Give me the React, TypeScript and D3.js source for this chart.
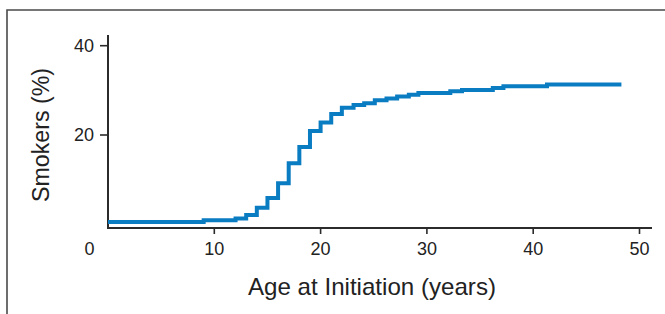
import React from "react";
import * as d3 from "d3";

const ages: number[] = [0, 9, 12, 13, 14, 15, 16, 17, 18, 19, 20, 21, 22, 23.1, 24.1, 25.1, 26.2, 27.2, 28.3, 29.2, 32.2, 33.3, 36.2, 37.2, 41.3, 48.3];
const smokers: number[] = [0.5, 0.9, 1.3, 2.1, 3.7, 5.9, 9.2, 13.7, 17.3, 20.9, 22.8, 24.7, 26.1, 26.7, 27.1, 27.8, 28.2, 28.6, 29.0, 29.4, 29.8, 30.1, 30.5, 30.9, 31.3, 31.3];
const xTicks: number[] = [10, 20, 30, 40, 50];
const yTicks: number[] = [20, 40];
const xTitle = "Age at Initiation (years)";
const yTitle = "Smokers (%)";

export default function App() {
  const W = 665, H = 314;
  const x = d3.scaleLinear().domain([0, 50]).range([108, 639.5]);
  const y = d3.scaleLinear().domain([0, 40]).range([224.3, 45.7]);
  const axisY = 228;
  const axisColor = "#2b2b2b";
  const font = "'Liberation Sans', Arial, Helvetica, sans-serif";
  const data = ages.map((a, i) => [a, smokers[i]] as [number, number]);
  const line = d3.line<[number, number]>().x(d => x(d[0])).y(d => y(d[1])).curve(d3.curveStepAfter);

  return (
    <svg width={W} height={H} style={{ position: "absolute", left: 0, top: 0, background: "#fff" }}>
      {/* frame */}
      <path d={`M7,${H} L7,10 L${W},10`} fill="none" stroke="#4a4a4a" strokeWidth={1.6} />
      {/* y axis */}
      <line x1={108} x2={108} y1={35} y2={axisY + 1} stroke={axisColor} strokeWidth={2} />
      {yTicks.map(t => (
        <g key={t}>
          <line x1={100} x2={108} y1={y(t)} y2={y(t)} stroke={axisColor} strokeWidth={1.6} />
          <text x={94} y={y(t)} dy="0.36em" textAnchor="end" fontFamily={font} fontSize={18} fill="#222">{t}</text>
        </g>
      ))}
      {/* x axis */}
      <line x1={107} x2={652} y1={axisY} y2={axisY} stroke={axisColor} strokeWidth={2} />
      {xTicks.map(t => (
        <g key={t}>
          <line x1={x(t)} x2={x(t)} y1={axisY} y2={axisY + 6} stroke={axisColor} strokeWidth={1.6} />
          <text x={x(t)} y={254.5} textAnchor="middle" fontFamily={font} fontSize={18} fill="#222">{t}</text>
        </g>
      ))}
      <text x={x(0) - 18.5} y={254.5} textAnchor="middle" fontFamily={font} fontSize={18} fill="#222">0</text>
      {/* data line */}
      <path d={line(data) || ""} fill="none" stroke="#0a7cc2" strokeWidth={4} />
      {/* titles */}
      <text x={372} y={295} textAnchor="middle" fontFamily={font} fontSize={24} fill="#222"
        textLength={248} lengthAdjust="spacingAndGlyphs">{xTitle}</text>
      <text transform={`translate(49,135) rotate(-90)`} textAnchor="middle" fontFamily={font} fontSize={23} fill="#222"
        textLength={134} lengthAdjust="spacingAndGlyphs">{yTitle}</text>
    </svg>
  );
}
